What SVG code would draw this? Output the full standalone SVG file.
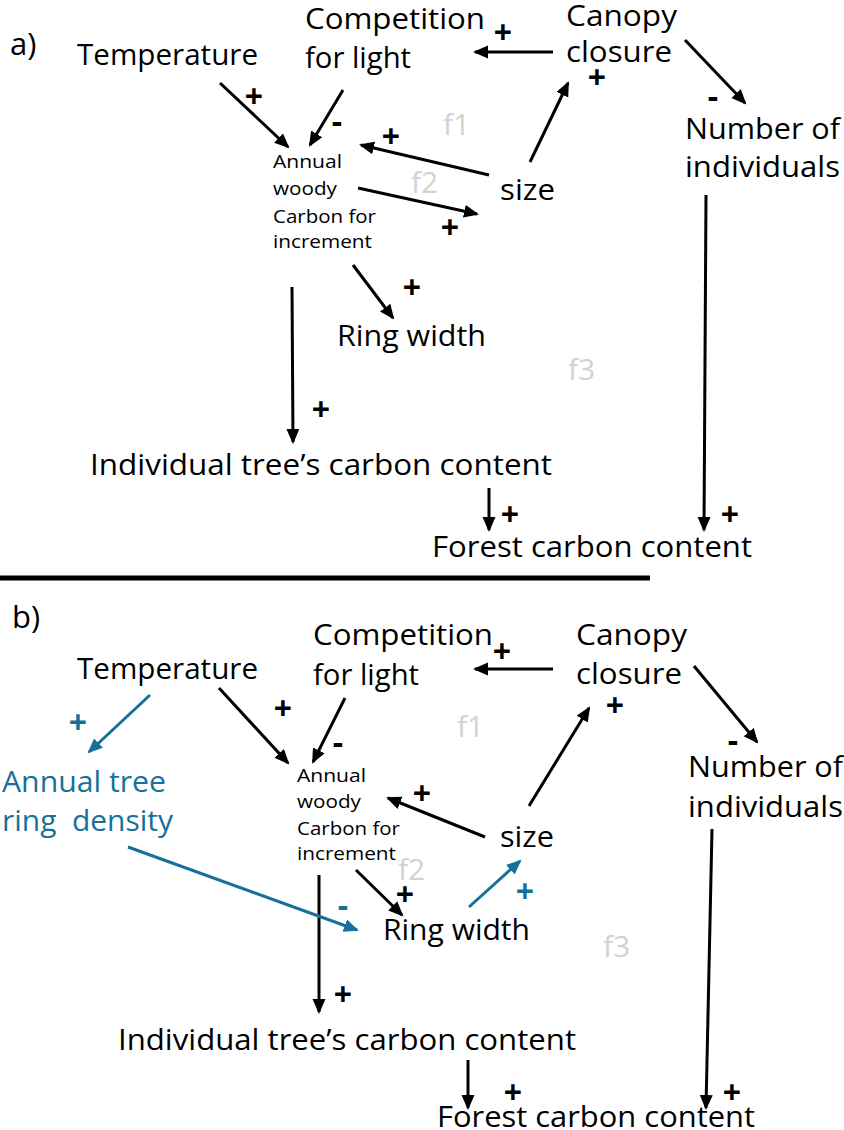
<svg xmlns="http://www.w3.org/2000/svg" width="844" height="1130" viewBox="0 0 844 1130">
<defs>
<style>
text{font-family:"Open Sans","Liberation Sans",sans-serif;fill:#000}
.l{font-size:29px}
.s{font-size:18px}
.g{font-size:30px;fill:#d2d2d2}
.p{font-size:32px;font-weight:700;text-anchor:middle}
.b{fill:#16709a}
.c{stroke:#000;stroke-width:3;fill:none;marker-end:url(#ah)}
.cb{stroke:#16709a;stroke-width:3;fill:none;marker-end:url(#ahb)}
</style>
<marker id="ah" markerUnits="userSpaceOnUse" markerWidth="16" markerHeight="14" refX="13" refY="6.5" orient="auto">
<path d="M0,0 L15,6.5 L0,13 Z" fill="#000"/>
</marker>
<marker id="ahb" markerUnits="userSpaceOnUse" markerWidth="16" markerHeight="14" refX="13" refY="6.5" orient="auto">
<path d="M0,0 L15,6.5 L0,13 Z" fill="#16709a"/>
</marker>
</defs>
<rect width="844" height="1130" fill="#fff"/>

<!-- Panel a -->
<text id="label-a" x="10" y="55" class="l" style="font-size:31px">a)</text>
<g id="a-temperature"><text x="77" y="65" class="l" textLength="181" lengthAdjust="spacingAndGlyphs">Temperature</text></g>
<g id="a-competition"><text x="305" y="29" class="l" textLength="180" lengthAdjust="spacingAndGlyphs">Competition</text><text x="305" y="68" class="l" textLength="106" lengthAdjust="spacingAndGlyphs">for light</text></g>
<g id="a-canopy"><text x="566" y="26" class="l" textLength="111" lengthAdjust="spacingAndGlyphs">Canopy</text><text x="566" y="62" class="l" textLength="106" lengthAdjust="spacingAndGlyphs">closure</text></g>
<g id="a-number"><text x="685" y="139" class="l" textLength="155" lengthAdjust="spacingAndGlyphs">Number of</text><text x="685" y="177" class="l" textLength="155" lengthAdjust="spacingAndGlyphs">individuals</text></g>
<g id="a-size"><text x="500" y="200" class="l" textLength="55" lengthAdjust="spacingAndGlyphs">size</text></g>
<g id="a-annual"><text x="273" y="168" class="s" textLength="69" lengthAdjust="spacingAndGlyphs">Annual</text><text x="273" y="195" class="s" textLength="64" lengthAdjust="spacingAndGlyphs">woody</text><text x="273" y="223" class="s" textLength="103" lengthAdjust="spacingAndGlyphs">Carbon for</text><text x="273" y="248" class="s" textLength="99" lengthAdjust="spacingAndGlyphs">increment</text></g>
<g id="a-ring"><text x="337" y="346" class="l" textLength="149" lengthAdjust="spacingAndGlyphs">Ring width</text></g>
<g id="a-individual"><text x="90" y="475" class="l" textLength="462" lengthAdjust="spacingAndGlyphs">Individual tree’s carbon content</text></g>
<g id="a-forest"><text x="432" y="557" class="l" textLength="320" lengthAdjust="spacingAndGlyphs">Forest carbon content</text></g>
<g id="a-f-labels"><text x="443" y="135" class="g">f1</text><text x="411" y="193" class="g">f2</text><text x="568" y="380" class="g">f3</text></g>

<g id="a-connectors">
<line class="c" x1="220" y1="83" x2="288" y2="147"/>
<line class="c" x1="343" y1="90" x2="310" y2="145"/>
<line class="c" x1="489" y1="175" x2="361" y2="145"/>
<line class="c" x1="358" y1="188" x2="477" y2="214"/>
<line class="c" x1="530" y1="162" x2="568" y2="83"/>
<line class="c" x1="553" y1="52" x2="475" y2="52"/>
<line class="c" x1="685" y1="40" x2="745" y2="103"/>
<line class="c" x1="353" y1="265" x2="393" y2="318"/>
<line class="c" x1="292" y1="287" x2="293" y2="442"/>
<line class="c" x1="489" y1="488" x2="489" y2="530"/>
<line class="c" x1="706" y1="195" x2="704" y2="530"/>
<text x="254" y="108" class="p">+</text>
<text x="337" y="133" class="p">-</text>
<text x="391" y="148" class="p">+</text>
<text x="450" y="239" class="p">+</text>
<text x="503" y="44" class="p">+</text>
<text x="597" y="89" class="p">+</text>
<text x="713" y="108" class="p">-</text>
<text x="412" y="299" class="p">+</text>
<text x="321" y="421" class="p">+</text>
<text x="510" y="526" class="p">+</text>
<text x="730" y="526" class="p">+</text>
</g>

<line id="divider" x1="0" y1="578" x2="650" y2="578" stroke="#000" stroke-width="5"/>

<!-- Panel b -->
<text id="label-b" x="12" y="628" class="l" style="font-size:31px">b)</text>
<g id="b-temperature"><text x="77" y="679" class="l" textLength="181" lengthAdjust="spacingAndGlyphs">Temperature</text></g>
<g id="b-competition"><text x="313" y="645" class="l" textLength="180" lengthAdjust="spacingAndGlyphs">Competition</text><text x="313" y="685" class="l" textLength="106" lengthAdjust="spacingAndGlyphs">for light</text></g>
<g id="b-canopy"><text x="576" y="645" class="l" textLength="111" lengthAdjust="spacingAndGlyphs">Canopy</text><text x="576" y="684" class="l" textLength="106" lengthAdjust="spacingAndGlyphs">closure</text></g>
<g id="b-number"><text x="688" y="777" class="l" textLength="155" lengthAdjust="spacingAndGlyphs">Number of</text><text x="688" y="817" class="l" textLength="155" lengthAdjust="spacingAndGlyphs">individuals</text></g>
<g id="b-size"><text x="500" y="847" class="l" textLength="54" lengthAdjust="spacingAndGlyphs">size</text></g>
<g id="b-density"><text x="2" y="792" class="l b" textLength="164" lengthAdjust="spacingAndGlyphs">Annual tree</text><text x="2" y="831" class="l b" xml:space="preserve" textLength="171" lengthAdjust="spacingAndGlyphs">ring  density</text></g>
<g id="b-annual"><text x="297" y="782" class="s" textLength="69" lengthAdjust="spacingAndGlyphs">Annual</text><text x="297" y="808" class="s" textLength="64" lengthAdjust="spacingAndGlyphs">woody</text><text x="297" y="835" class="s" textLength="103" lengthAdjust="spacingAndGlyphs">Carbon for</text><text x="297" y="860" class="s" textLength="99" lengthAdjust="spacingAndGlyphs">increment</text></g>
<g id="b-ring"><text x="383" y="940" class="l" textLength="147" lengthAdjust="spacingAndGlyphs">Ring width</text></g>
<g id="b-individual"><text x="118" y="1050" class="l" textLength="458" lengthAdjust="spacingAndGlyphs">Individual tree’s carbon content</text></g>
<g id="b-forest"><text x="437" y="1127" class="l" textLength="318" lengthAdjust="spacingAndGlyphs">Forest carbon content</text></g>
<g id="b-f-labels"><text x="457" y="737" class="g">f1</text><text x="398" y="880" class="g">f2</text><text x="603" y="957" class="g">f3</text></g>

<g id="b-connectors">
<line class="c" x1="219" y1="688" x2="288" y2="763"/>
<line class="c" x1="345" y1="698" x2="313" y2="762"/>
<line class="c" x1="485" y1="837" x2="388" y2="798"/>
<line class="c" x1="529" y1="806" x2="589" y2="708"/>
<line class="c" x1="553" y1="669" x2="475" y2="669"/>
<line class="c" x1="694" y1="666" x2="757" y2="742"/>
<line class="c" x1="356" y1="870" x2="402" y2="915"/>
<line class="c" x1="319" y1="875" x2="319" y2="1012"/>
<line class="c" x1="468" y1="1060" x2="468" y2="1108"/>
<line class="c" x1="712" y1="829" x2="706" y2="1108"/>
<line class="cb" x1="150" y1="695" x2="89" y2="752"/>
<line class="cb" x1="128" y1="847" x2="357" y2="930"/>
<line class="cb" x1="469" y1="907" x2="520" y2="861"/>
<text x="283" y="720" class="p">+</text>
<text x="338" y="754" class="p">-</text>
<text x="422" y="805" class="p">+</text>
<text x="502" y="663" class="p">+</text>
<text x="615" y="717" class="p">+</text>
<text x="733" y="752" class="p">-</text>
<text x="405" y="906" class="p">+</text>
<text x="343" y="1006" class="p">+</text>
<text x="513" y="1104" class="p">+</text>
<text x="732" y="1104" class="p">+</text>
<text x="78" y="734" class="p b">+</text>
<text x="343" y="917" class="p b">-</text>
<text x="525" y="903" class="p b">+</text>
</g>
</svg>
